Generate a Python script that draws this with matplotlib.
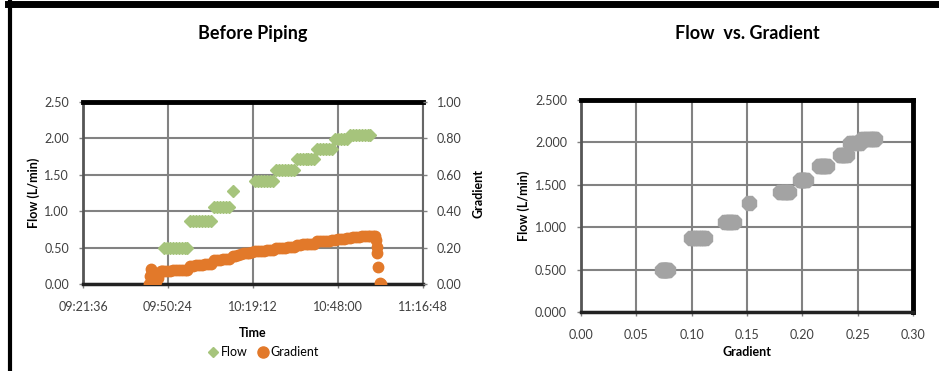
import numpy as np
import pandas as pd
import matplotlib
matplotlib.use('Agg')
import matplotlib.pyplot as plt
from matplotlib.lines import Line2D
from matplotlib.ticker import FuncFormatter, FormatStrFormatter, MultipleLocator

plt.rcParams['font.family'] = ['Lato', 'DejaVu Sans']

# readings (flow blank where not measured)
nan = np.nan
time = ['09:44:00', '09:44:20', '09:44:40', '09:45:00', '09:45:20', '09:45:40',
        '09:46:00', '09:46:30', '09:47:00', '09:47:30', '09:48:00', '09:48:30',
        '09:49:00', '09:50:00', '09:51:00', '09:52:00', '09:53:00', '09:54:00',
        '09:55:00', '09:56:00', '09:57:00',
        '09:58:00', '09:59:00', '10:00:00', '10:01:00', '10:02:00', '10:03:00',
        '10:04:00', '10:05:00',
        '10:06:00', '10:07:00', '10:08:00', '10:09:00', '10:10:00', '10:11:00',
        '10:12:30',
        '10:13:00', '10:14:00', '10:15:00', '10:16:00', '10:17:00', '10:18:00',
        '10:19:00',
        '10:20:00', '10:21:00', '10:22:00', '10:23:00', '10:24:00', '10:25:00',
        '10:26:00',
        '10:27:00', '10:28:00', '10:29:00', '10:30:00', '10:31:00', '10:32:00',
        '10:33:00',
        '10:34:00', '10:35:00', '10:36:00', '10:37:00', '10:38:00', '10:39:00',
        '10:40:00',
        '10:41:00', '10:42:00', '10:43:00', '10:44:00', '10:45:00', '10:46:00',
        '10:47:00', '10:48:00', '10:49:00', '10:50:00', '10:51:00',
        '10:52:00', '10:53:00', '10:54:00', '10:55:00', '10:56:00', '10:57:00',
        '10:58:00', '10:59:00',
        '11:00:00', '11:00:30', '11:00:50', '11:01:05', '11:01:20', '11:01:40',
        '11:02:20', '11:02:40']
flow = [nan, nan, nan, nan, nan, nan,
        nan, nan, nan, nan, nan, nan,
        0.50, 0.50, 0.50, 0.50, 0.50, 0.50,
        0.50, 0.50, 0.50,
        0.87, 0.87, 0.87, 0.87, 0.87, 0.87,
        0.87, 0.87,
        1.06, 1.06, 1.06, 1.06, 1.06, 1.06,
        1.28,
        nan, nan, nan, nan, nan, nan,
        nan,
        1.42, 1.42, 1.42, 1.42, 1.42, 1.42,
        1.42,
        1.56, 1.56, 1.56, 1.56, 1.56, 1.56,
        1.56,
        1.72, 1.72, 1.72, 1.72, 1.72, 1.72,
        1.72,
        1.85, 1.85, 1.85, 1.85, 1.85, 1.85,
        1.99, 1.99, 1.99, 1.99, 1.99,
        2.04, 2.04, 2.04, 2.04, 2.04, 2.04,
        2.04, 2.04,
        nan, nan, nan, nan, nan, nan,
        nan, nan]
gradient = [0.000, 0.045, 0.085, 0.065, 0.030, 0.005,
            0.000, 0.015, 0.035, 0.060, 0.072, 0.073,
            0.073, 0.074, 0.074, 0.075, 0.075, 0.076,
            0.077, 0.078, 0.079,
            0.099, 0.101, 0.103, 0.105, 0.107, 0.109,
            0.110, 0.112,
            0.130, 0.132, 0.134, 0.135, 0.136, 0.138,
            0.152,
            0.155, 0.160, 0.164, 0.168, 0.170, 0.172,
            0.175,
            0.180, 0.181, 0.183, 0.184, 0.186, 0.187,
            0.188,
            0.198, 0.199, 0.200, 0.200, 0.201, 0.202,
            0.203,
            0.215, 0.216, 0.218, 0.219, 0.220, 0.221,
            0.222,
            0.234, 0.235, 0.236, 0.238, 0.239, 0.240,
            0.243, 0.245, 0.248, 0.250, 0.252,
            0.254, 0.256, 0.258, 0.260, 0.262, 0.264,
            0.265, 0.266,
            0.266, 0.262, 0.240, 0.205, 0.170, 0.095,
            0.003, 0.000]
time_ticks = ['09:21:36', '09:50:24', '10:19:12', '10:48:00', '11:16:48']

df = pd.DataFrame({'time': time, 'flow': flow, 'gradient': gradient})
df['day'] = pd.to_timedelta(df['time']).dt.total_seconds() / 86400
tick_days = pd.to_timedelta(pd.Series(time_ticks)).dt.total_seconds() / 86400

green = '#A6C47C'
orange = '#E2792A'
grey_pt = '#A3A3A3'
tick_col = '#404040'
grid_col = '#828282'


def hms(x, pos):
    s = int(round(x * 86400))
    return '%02d:%02d:%02d' % (s // 3600, s % 3600 // 60, s % 60)


def style(ax, right_black):
    ax.grid(True, color=grid_col, lw=1.5)
    ax.set_axisbelow(True)
    ax.spines['top'].set(color='black', lw=3.5)
    ax.spines['bottom'].set(color='#222222', lw=2.5)
    ax.spines['left'].set(color='#555555', lw=2)
    if right_black:
        ax.spines['right'].set(color='black', lw=3.5)
    else:
        ax.spines['right'].set(color='#666666', lw=1.5)
    ax.tick_params(direction='out', length=3, width=1, color='#808080',
                   labelsize=9, labelcolor=tick_col)
    ax.tick_params(axis='x', pad=9)
    ax.tick_params(axis='y', pad=7)


fig = plt.figure(figsize=(9.39, 3.71), dpi=100)

# Before Piping
ax1 = fig.add_axes([83 / 939, 87 / 371, 340 / 939, 182 / 371])
ax1.plot(df['day'], df['flow'], ls='none', marker='D', ms=6.3, color=green,
         mec=green, label='Flow')
ax1.set_xlim(tick_days.iloc[0], tick_days.iloc[-1])
ax1.set_ylim(0, 2.5)
ax1.set_xticks(tick_days)
ax1.xaxis.set_major_formatter(FuncFormatter(hms))
ax1.yaxis.set_major_locator(MultipleLocator(0.5))
ax1.yaxis.set_major_formatter(FormatStrFormatter('%.2f'))
style(ax1, False)
ax1.set_ylabel('Flow (L/min)', fontsize=9, fontweight='bold', labelpad=3)
ax1.set_xlabel('Time', fontsize=9, fontweight='bold', labelpad=10)
ax1.set_title('Before Piping', fontsize=13, fontweight='bold', pad=45)

ax2 = ax1.twinx()
ax2.plot(df['day'], df['gradient'], ls='none', marker='o', ms=7.5,
         color=orange, mec=orange, label='Gradient')
ax2.set_ylim(0, 1.0)
ax2.yaxis.set_major_locator(MultipleLocator(0.2))
ax2.yaxis.set_major_formatter(FormatStrFormatter('%.2f'))
for s in ax2.spines.values():
    s.set_visible(False)
ax2.tick_params(direction='out', length=3, width=1, color='#808080',
                labelsize=9, labelcolor=tick_col, pad=7)
ax2.set_ylabel('Gradient', fontsize=9, fontweight='bold', labelpad=8)

h = [Line2D([], [], ls='none', marker='D', ms=5, color=green),
     Line2D([], [], ls='none', marker='o', ms=8, color=orange)]
fig.legend(h, ['Flow', 'Gradient'], loc='center', bbox_to_anchor=(262 / 939, 1 - 352 / 371),
           ncol=2, frameon=False, fontsize=9, handletextpad=0.0, columnspacing=0.6,
           handlelength=1.2)

# Flow vs. Gradient
both = df.dropna(subset=['flow'])
ax3 = fig.add_axes([581 / 939, 59 / 371, 332 / 939, 212 / 371])
ax3.plot(both['gradient'], both['flow'], ls='none', marker='8', ms=10.5,
         color=grey_pt, mec=grey_pt)
ax3.set_xlim(0, 0.3)
ax3.set_ylim(0, 2.5)
ax3.xaxis.set_major_locator(MultipleLocator(0.05))
ax3.xaxis.set_major_formatter(FormatStrFormatter('%.2f'))
ax3.yaxis.set_major_locator(MultipleLocator(0.5))
ax3.yaxis.set_major_formatter(FormatStrFormatter('%.3f'))
style(ax3, True)
ax3.set_xlabel('Gradient', fontsize=9, fontweight='bold', labelpad=4)
ax3.set_ylabel('Flow (L/min)', fontsize=9, fontweight='bold', labelpad=4)
ax3.set_title('Flow  vs. Gradient', fontsize=13, fontweight='bold', pad=44)

# page frame
fig.add_artist(Line2D([8 / 939, 1], [1 - 4 / 371] * 2, lw=5, color='black',
                      transform=fig.transFigure))
fig.add_artist(Line2D([10 / 939] * 2, [0, 1], lw=3, color='black',
                      transform=fig.transFigure))

fig.savefig('out.png', dpi=100)
